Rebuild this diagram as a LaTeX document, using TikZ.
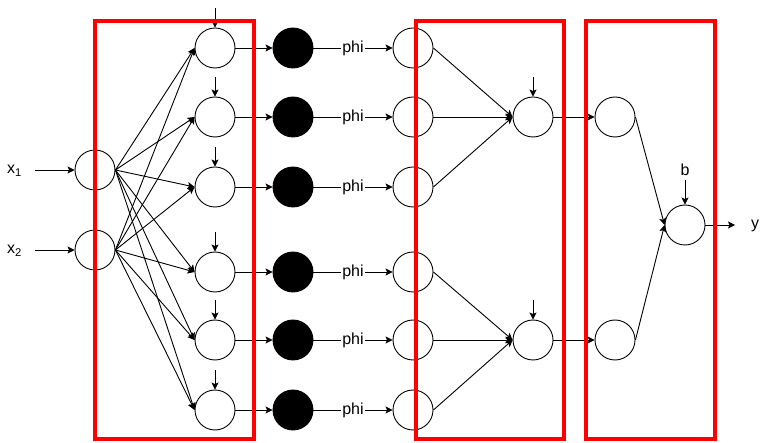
\documentclass[tikz,border=0pt]{standalone}
\usepackage{fontspec}
\setmainfont{Liberation Sans}
\usetikzlibrary{arrows.meta}
\begin{document}
\begin{tikzpicture}[x=1pt,y=-1pt,
  neuron/.style={circle,draw=black,fill=white,line width=0.9pt,minimum size=40pt,inner sep=0pt},
  blackneuron/.style={neuron,fill=black},
  conn/.style={line width=0.9pt,-{Stealth[length=7pt,width=7pt,inset=1.5pt]}},
  lbl/.style={font=\fontsize{16}{19}\selectfont,inner sep=0pt},
  philbl/.style={font=\fontsize{16}{19}\selectfont,fill=white,inner sep=1pt},
  redbox/.style={draw=red,line width=4pt}]
\useasboundingbox (0,0) rectangle (766,443);
% input layer
\node[neuron] (in1) at (95,170) {};
\node[neuron] (in2) at (95,250) {};
\coordinate (xs1) at (35,170);
\coordinate (xs2) at (35,250);
\node[lbl,anchor=base west] (xl1) at (7,174) {x\textsubscript{1}};
\node[lbl,anchor=base west] (xl2) at (7,254) {x\textsubscript{2}};
\draw[conn] (xs1) -- (in1.west);
\draw[conn] (xs2) -- (in2.west);
% hidden rows
\foreach \i/\y in {1/48,2/117,3/187,4/272,5/340,6/410}{
  \node[neuron] (h\i) at (215,\y) {};
  \node[blackneuron] (k\i) at (293,\y) {};
  \node[neuron] (p\i) at (413,\y) {};
  \coordinate (hb\i) at (215,\y-40);
  \draw[conn] (hb\i) -- (h\i.north);
  \draw[conn] (in1.east) -- (h\i.west);
  \draw[conn] (in2.east) -- (h\i.west);
  \draw[conn] (h\i.east) -- (k\i.west);
  \draw[conn] (k\i.east) -- node[philbl] {phi} (p\i.west);
}
% sum nodes
\node[neuron] (s1) at (533,117) {};
\node[neuron] (s2) at (533,340) {};
\coordinate (sb1) at (533,77);
\coordinate (sb2) at (533,300);
\draw[conn] (sb1) -- (s1.north);
\draw[conn] (sb2) -- (s2.north);
\foreach \i in {1,2,3}{\draw[conn] (p\i.east) -- (s1.west);}
\foreach \i in {4,5,6}{\draw[conn] (p\i.east) -- (s2.west);}
% fourth column
\node[neuron] (c1) at (615,117) {};
\node[neuron] (c2) at (615,340) {};
\draw[conn] (s1.east) -- (c1.west);
\draw[conn] (s2.east) -- (c2.west);
% output
\node[neuron] (out) at (685,225) {};
\coordinate (ob) at (685,180);
\node[lbl] (bl) at (685,170) {b};
\draw[conn] (ob) -- (out.north);
\draw[conn] (c1.east) -- (out.west);
\draw[conn] (c2.east) -- (out.west);
\coordinate (oy) at (735,225);
\draw[conn] (out.east) -- (oy);
\node[lbl,anchor=base west] (yl) at (751,229) {y};
% red boxes
\draw[redbox] (95,21) rectangle (254,439);
\draw[redbox] (416,21) rectangle (564,439);
\draw[redbox] (586,21) rectangle (715,439);
\end{tikzpicture}
\end{document}
